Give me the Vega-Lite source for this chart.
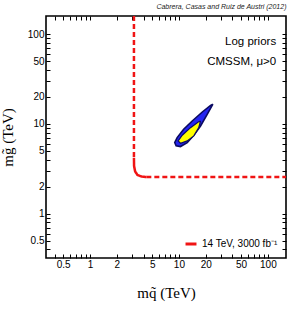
{
  "$schema": "https://vega.github.io/schema/vega-lite/v6.json",
  "autosize": {"type": "none"},
  "padding": {"left": 46, "top": 16, "right": 5, "bottom": 55},
  "width": 240,
  "height": 242,
  "title": {"text": "Cabrera, Casas and Ruiz de Austri (2012)", "anchor": "end", "fontSize": 7, "fontStyle": "italic", "fontWeight": "normal", "font": "Liberation Sans", "offset": 6, "color": "#222"},
  "config": {
    "view": {"stroke": "black", "strokeWidth": 1.6},
    "axis": {"grid": false, "domain": false, "tickColor": "black", "labelFont": "Liberation Sans", "labelFontSize": 10, "labelColor": "black", "labelOverlap": false, "labelFlush": false, "titleFont": "Liberation Serif", "titleFontSize": 15, "titleFontWeight": "normal", "titleColor": "black"}
  },
  "datasets": {
    "blue": [
      {"i": 1, "mq": 24.1, "mg": 16.6}, {"i": 2, "mq": 20.8, "mg": 12.8}, {"i": 3, "mq": 17.5, "mg": 9.5},
      {"i": 4, "mq": 14.7, "mg": 7.49}, {"i": 5, "mq": 12.4, "mg": 6.2}, {"i": 6, "mq": 10.4, "mg": 5.6},
      {"i": 7, "mq": 9.3, "mg": 5.7}, {"i": 8, "mq": 8.97, "mg": 6.2}, {"i": 9, "mq": 9.55, "mg": 7.05},
      {"i": 10, "mq": 11.3, "mg": 8.73}, {"i": 11, "mq": 14.1, "mg": 10.8}, {"i": 12, "mq": 18.3, "mg": 13.6},
      {"i": 13, "mq": 22.7, "mg": 16.1}, {"i": 14, "mq": 24.1, "mg": 16.6}
    ],
    "yellow": [
      {"i": 1, "mq": 17.5, "mg": 10.8}, {"i": 2, "mq": 16.7, "mg": 9.1}, {"i": 3, "mq": 14.7, "mg": 7.36},
      {"i": 4, "mq": 12.4, "mg": 6.47}, {"i": 5, "mq": 10.4, "mg": 6.1}, {"i": 6, "mq": 9.8, "mg": 6.47},
      {"i": 7, "mq": 10.9, "mg": 7.49}, {"i": 8, "mq": 13.5, "mg": 9.1}, {"i": 9, "mq": 16.5, "mg": 10.5},
      {"i": 10, "mq": 17.5, "mg": 10.8}
    ],
    "red": [
      {"i": 1, "seg": "a", "dash": "dashed", "lab": "14 TeV, 3000 fb⁻¹", "mq": 3.12, "mg": 160},
      {"i": 2, "seg": "a", "dash": "dashed", "lab": "14 TeV, 3000 fb⁻¹", "mq": 3.12, "mg": 4.2},
      {"i": 3, "seg": "b", "dash": "solid", "lab": "14 TeV, 3000 fb⁻¹", "mq": 3.12, "mg": 4.2},
      {"i": 4, "seg": "b", "dash": "solid", "lab": "14 TeV, 3000 fb⁻¹", "mq": 3.13, "mg": 3.4},
      {"i": 5, "seg": "b", "dash": "solid", "lab": "14 TeV, 3000 fb⁻¹", "mq": 3.22, "mg": 2.95},
      {"i": 6, "seg": "b", "dash": "solid", "lab": "14 TeV, 3000 fb⁻¹", "mq": 3.42, "mg": 2.7},
      {"i": 7, "seg": "b", "dash": "solid", "lab": "14 TeV, 3000 fb⁻¹", "mq": 3.8, "mg": 2.59},
      {"i": 8, "seg": "b", "dash": "solid", "lab": "14 TeV, 3000 fb⁻¹", "mq": 4.3, "mg": 2.56},
      {"i": 9, "seg": "c", "dash": "dashed", "lab": "14 TeV, 3000 fb⁻¹", "mq": 4.3, "mg": 2.56},
      {"i": 10, "seg": "c", "dash": "dashed", "lab": "14 TeV, 3000 fb⁻¹", "mq": 160, "mg": 2.56}
    ],
    "notes": [
      {"mq": 124, "mg": 82.6, "txt": "Log priors"},
      {"mq": 124, "mg": 48.7, "txt": "CMSSM, μ>0"}
    ]
  },
  "resolve": {"axis": {"x": "independent", "y": "independent"}},
  "layer": [
    {
      "data": {"name": "blue"},
      "mark": {"type": "line", "fill": "#2424f0", "stroke": "#0a0a60", "strokeWidth": 1.6, "clip": true},
      "encoding": {
        "x": {"field": "mq", "type": "quantitative", "scale": {"type": "log", "domain": [0.32, 160], "nice": false},
          "axis": {"orient": "bottom", "title": "mq̃ (TeV)", "titlePadding": 16, "values": [0.4,0.5,0.6,0.7,0.8,0.9,1,2,3,4,5,6,7,8,9,10,20,30,40,50,60,70,80,90,100], "tickSize": -4, "labelPadding": 5, "labelExpr": "indexof([0.5,1,2,5,10,20,50,100], datum.value) >= 0 ? format(datum.value, '~g') : ''"}},
        "y": {"field": "mg", "type": "quantitative", "scale": {"type": "log", "domain": [0.32, 160], "nice": false},
          "axis": {"orient": "left", "title": "mg̃ (TeV)", "titlePadding": 12, "values": [0.4,0.5,0.6,0.7,0.8,0.9,1,2,3,4,5,6,7,8,9,10,20,30,40,50,60,70,80,90,100], "tickSize": -4, "labelPadding": 6, "labelExpr": "indexof([0.5,1,2,5,10,20,50,100], datum.value) >= 0 ? format(datum.value, '~g') : ''"}},
        "order": {"field": "i", "type": "quantitative"}
      }
    },
    {
      "data": {"name": "yellow"},
      "mark": {"type": "line", "fill": "#ffff00", "stroke": "#0a0a60", "strokeWidth": 1.2, "clip": true},
      "encoding": {
        "x": {"field": "mq", "type": "quantitative", "axis": {"orient": "top", "title": null, "labels": false, "values": [0.4,0.5,0.6,0.7,0.8,0.9,1,2,3,4,5,6,7,8,9,10,20,30,40,50,60,70,80,90,100], "tickSize": -4}},
        "y": {"field": "mg", "type": "quantitative", "axis": {"orient": "right", "title": null, "labels": false, "values": [0.4,0.5,0.6,0.7,0.8,0.9,1,2,3,4,5,6,7,8,9,10,20,30,40,50,60,70,80,90,100], "tickSize": -4}},
        "order": {"field": "i", "type": "quantitative"}
      }
    },
    {
      "data": {"name": "red"},
      "mark": {"type": "line", "strokeWidth": 2.5, "clip": true},
      "encoding": {
        "x": {"field": "mq", "type": "quantitative", "axis": null},
        "y": {"field": "mg", "type": "quantitative", "axis": null},
        "detail": {"field": "seg"},
        "order": {"field": "i", "type": "quantitative"},
        "strokeDash": {"field": "dash", "type": "nominal", "scale": {"domain": ["dashed", "solid"], "range": [[5, 3], [1, 0]]}, "legend": null},
        "color": {"field": "lab", "type": "nominal", "scale": {"range": ["#f01414"]},
          "legend": {"title": null, "orient": "bottom-right", "offset": 8, "labelFont": "Liberation Sans", "labelFontSize": 10, "labelColor": "black", "symbolType": "stroke", "symbolStrokeWidth": 3, "symbolSize": 120, "padding": 0}}
      }
    },
    {
      "data": {"name": "notes"},
      "mark": {"type": "text", "align": "right", "baseline": "middle", "font": "Liberation Sans", "fontSize": 11.5, "color": "black"},
      "encoding": {
        "x": {"field": "mq", "type": "quantitative", "axis": null},
        "y": {"field": "mg", "type": "quantitative", "axis": null},
        "text": {"field": "txt"}
      }
    }
  ]
}
